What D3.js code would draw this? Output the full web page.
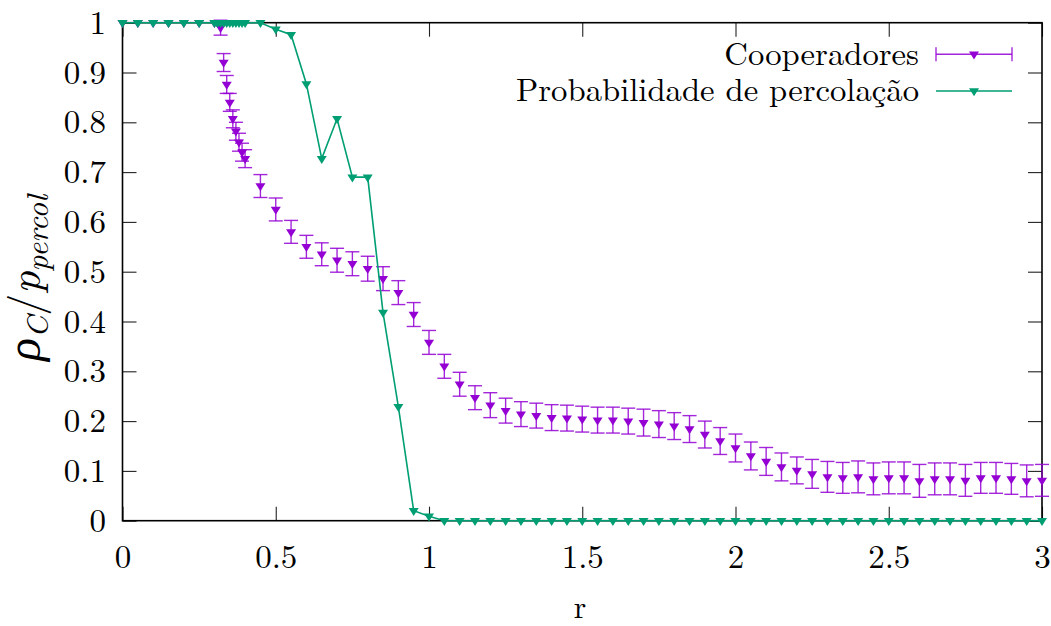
<!DOCTYPE html>
<html>
<head>
<meta charset="utf-8">
<script src="https://cdn.jsdelivr.net/npm/d3@7"></script>
<style>
  html, body { margin: 0; padding: 0; background: #fff; }
  svg { display: block; }
</style>
</head>
<body>
<svg id="chart" width="1051" height="626"></svg>
<script>
// r grid shared by both series
const rValues = [
  0, 0.05, 0.1, 0.15, 0.2, 0.25,
  0.30, 0.31, 0.32, 0.33, 0.34, 0.35, 0.36, 0.37, 0.38, 0.39, 0.40,
  0.45, 0.5, 0.55, 0.6, 0.65, 0.7, 0.75, 0.8, 0.85, 0.9, 0.95, 1.0,
  1.05, 1.1, 1.15, 1.2, 1.25, 1.3, 1.35, 1.4, 1.45, 1.5, 1.55, 1.6, 1.65, 1.7, 1.75, 1.8, 1.85, 1.9, 1.95, 2.0,
  2.05, 2.1, 2.15, 2.2, 2.25, 2.3, 2.35, 2.4, 2.45, 2.5, 2.55, 2.6, 2.65, 2.7, 2.75, 2.8, 2.85, 2.9, 2.95, 3.0
];

// fraction of cooperators (mean) and its error
const cooperadores = [
  1, 1, 1, 1, 1, 1,
  1, 1, 0.99, 0.92, 0.876, 0.84, 0.807, 0.782, 0.76, 0.74, 0.727,
  0.672, 0.625, 0.58, 0.55, 0.535, 0.523, 0.516, 0.506, 0.486, 0.458, 0.414, 0.358,
  0.31, 0.274, 0.247, 0.232, 0.221, 0.214, 0.211, 0.207, 0.206, 0.204, 0.202, 0.202, 0.2, 0.197, 0.194, 0.19, 0.184, 0.173, 0.16, 0.146,
  0.13, 0.119, 0.108, 0.101, 0.094, 0.088, 0.086, 0.088, 0.084, 0.086, 0.086, 0.08, 0.084, 0.084, 0.081, 0.086, 0.086, 0.084, 0.08, 0.081
];
const cooperadoresErr = [
  0, 0, 0, 0, 0, 0,
  0, 0, 0.015, 0.018, 0.018, 0.018, 0.018, 0.018, 0.018, 0.018, 0.018,
  0.023, 0.023, 0.023, 0.023, 0.023, 0.024, 0.024, 0.025, 0.024, 0.024, 0.024, 0.024,
  0.024, 0.024, 0.024, 0.025, 0.025, 0.025, 0.025, 0.026, 0.026, 0.026, 0.026, 0.026, 0.026, 0.027, 0.027, 0.027, 0.027, 0.027, 0.027, 0.028,
  0.028, 0.028, 0.028, 0.027, 0.029, 0.031, 0.031, 0.032, 0.032, 0.032, 0.032, 0.033, 0.032, 0.032, 0.032, 0.031, 0.031, 0.031, 0.032, 0.032
];

// percolation probability
const percolacao = [
  1, 1, 1, 1, 1, 1,
  1, 1, 1, 1, 1, 1, 1, 1, 1, 1, 1,
  1, 0.987, 0.976, 0.877, 0.727, 0.807, 0.69, 0.69, 0.418, 0.229, 0.02, 0.009,
  0, 0, 0, 0, 0, 0, 0, 0, 0, 0, 0, 0, 0, 0, 0, 0, 0, 0, 0, 0,
  0, 0, 0, 0, 0, 0, 0, 0, 0, 0, 0, 0, 0, 0, 0, 0, 0, 0, 0, 0
];

const xTicks = [0, 0.5, 1, 1.5, 2, 2.5, 3];
const xTickLabels = ["0", "0.5", "1", "1.5", "2", "2.5", "3"];
const yTicks = [0, 0.1, 0.2, 0.3, 0.4, 0.5, 0.6, 0.7, 0.8, 0.9, 1];
const yTickLabels = ["0", "0.1", "0.2", "0.3", "0.4", "0.5", "0.6", "0.7", "0.8", "0.9", "1"];

const seriesNames = ["Cooperadores", "Probabilidade de percolação"];

const PURPLE = "#9400d3";
const GREEN = "#009e73";
const LM = "'Latin Modern Roman'";

const svg = d3.select("#chart");
const plotL = 122.5, plotR = 1042, plotT = 22.7, plotB = 520.7;

const x = d3.scaleLinear().domain([0, 3]).range([plotL, plotR]);
const y = d3.scaleLinear().domain([0, 1]).range([plotB, plotT]);

const TICK = 14;
const FONT = 33;

// axes with inward ticks, mirrored on top/right
const axB = svg.append("g").attr("transform", `translate(0,${plotB})`)
  .call(d3.axisBottom(x).tickValues(xTicks).tickSize(-TICK)
    .tickFormat((d, i) => xTickLabels[i]));
axB.selectAll("text").attr("y", 47.3).attr("dy", "0");

const axL = svg.append("g").attr("transform", `translate(${plotL},0)`)
  .call(d3.axisLeft(y).tickValues(yTicks).tickSize(-TICK).tickPadding(16.5)
    .tickFormat((d, i) => yTickLabels[i]));

const axT = svg.append("g").attr("transform", `translate(0,${plotT})`)
  .call(d3.axisTop(x).tickValues(xTicks).tickSize(-TICK).tickFormat(""));
const axR = svg.append("g").attr("transform", `translate(${plotR},0)`)
  .call(d3.axisRight(y).tickValues(yTicks).tickSize(-TICK).tickFormat(""));

[axB, axL, axT, axR].forEach(g => {
  g.select(".domain").remove();
  g.selectAll(".tick line").attr("stroke", "#222").attr("stroke-width", 1.1);
  g.selectAll("text").attr("fill", "#000")
    .style("font-family", LM).style("font-size", FONT + "px");
});

// plot border
svg.append("rect")
  .attr("x", plotL).attr("y", plotT)
  .attr("width", plotR - plotL).attr("height", plotB - plotT)
  .attr("fill", "none").attr("stroke", "#000").attr("stroke-width", 1.6);

// down-pointing triangle marker centred on its centroid
const tri = "M-5,-2.7L5,-2.7L0,5.3Z";

// cooperators: error bars + markers
const coopData = rValues.map((r, i) => ({ r, v: cooperadores[i], e: cooperadoresErr[i] }));
const gc = svg.append("g");
const eb = gc.selectAll("g.eb").data(coopData.filter(d => d.e > 0)).join("g")
  .attr("stroke", PURPLE).attr("stroke-width", 1.4).attr("stroke-opacity", 0.85);
eb.append("line")
  .attr("x1", d => x(d.r)).attr("x2", d => x(d.r))
  .attr("y1", d => y(d.v + d.e)).attr("y2", d => y(d.v - d.e));
eb.append("line")
  .attr("x1", d => x(d.r) - 7).attr("x2", d => x(d.r) + 7)
  .attr("y1", d => y(d.v + d.e)).attr("y2", d => y(d.v + d.e));
eb.append("line")
  .attr("x1", d => x(d.r) - 7).attr("x2", d => x(d.r) + 7)
  .attr("y1", d => y(d.v - d.e)).attr("y2", d => y(d.v - d.e));
gc.selectAll("path.m").data(coopData).join("path")
  .attr("d", tri).attr("fill", PURPLE)
  .attr("transform", d => `translate(${x(d.r)},${y(d.v)})`);

// percolation probability: line + markers
const percData = rValues.map((r, i) => ({ r, v: percolacao[i] }));
const gp = svg.append("g");
gp.append("path").datum(percData)
  .attr("d", d3.line().x(d => x(d.r)).y(d => y(d.v)))
  .attr("fill", "none").attr("stroke", GREEN).attr("stroke-width", 1.6);
gp.selectAll("path.m").data(percData).join("path")
  .attr("d", tri).attr("fill", GREEN)
  .attr("transform", d => `translate(${x(d.r)},${y(d.v)})`);

// legend
const legX0 = 936, legX1 = 1012, legMid = 974;
const leg = svg.append("g");
leg.append("text").attr("x", 919).attr("y", 65).attr("text-anchor", "end")
  .style("font-family", LM).style("font-size", "32.7px").text(seriesNames[0]);
leg.append("text").attr("x", 919).attr("y", 101).attr("text-anchor", "end")
  .style("font-family", LM).style("font-size", "32.7px").text(seriesNames[1]);

const ly1 = 54.3, ly2 = 91;
const lc = leg.append("g").attr("stroke", PURPLE).attr("stroke-width", 1.4).attr("stroke-opacity", 0.85);
lc.append("line").attr("x1", legX0).attr("x2", legX1).attr("y1", ly1).attr("y2", ly1);
lc.append("line").attr("x1", legX0).attr("x2", legX0).attr("y1", ly1 - 7).attr("y2", ly1 + 7);
lc.append("line").attr("x1", legX1).attr("x2", legX1).attr("y1", ly1 - 7).attr("y2", ly1 + 7);
leg.append("path").attr("d", tri).attr("fill", PURPLE).attr("transform", `translate(${legMid},${ly1})`);

leg.append("line").attr("x1", legX0).attr("x2", legX1).attr("y1", ly2).attr("y2", ly2)
  .attr("stroke", GREEN).attr("stroke-width", 1.6);
leg.append("path").attr("d", tri).attr("fill", GREEN).attr("transform", `translate(${legMid},${ly2})`);

// axis titles
svg.append("text").attr("x", 580).attr("y", 618).attr("text-anchor", "middle")
  .style("font-family", LM).style("font-size", "32px").text("r");

const yl = svg.append("text")
  .attr("transform", "translate(40,278) rotate(-90)")
  .attr("text-anchor", "middle")
  .style("font-family", LM).style("font-size", "44px");
yl.append("tspan").style("font-family", "'Liberation Serif'").style("font-style", "italic")
  .style("font-size", "48px").text("ρ");
yl.append("tspan").style("font-style", "italic").style("font-size", "31px").attr("dy", 8).text("C");
yl.append("tspan").attr("dy", -8).text("/");
yl.append("tspan").style("font-style", "italic").text("p");
yl.append("tspan").style("font-style", "italic").style("font-size", "31px").attr("dy", 8).text("percol");
</script>
</body>
</html>
